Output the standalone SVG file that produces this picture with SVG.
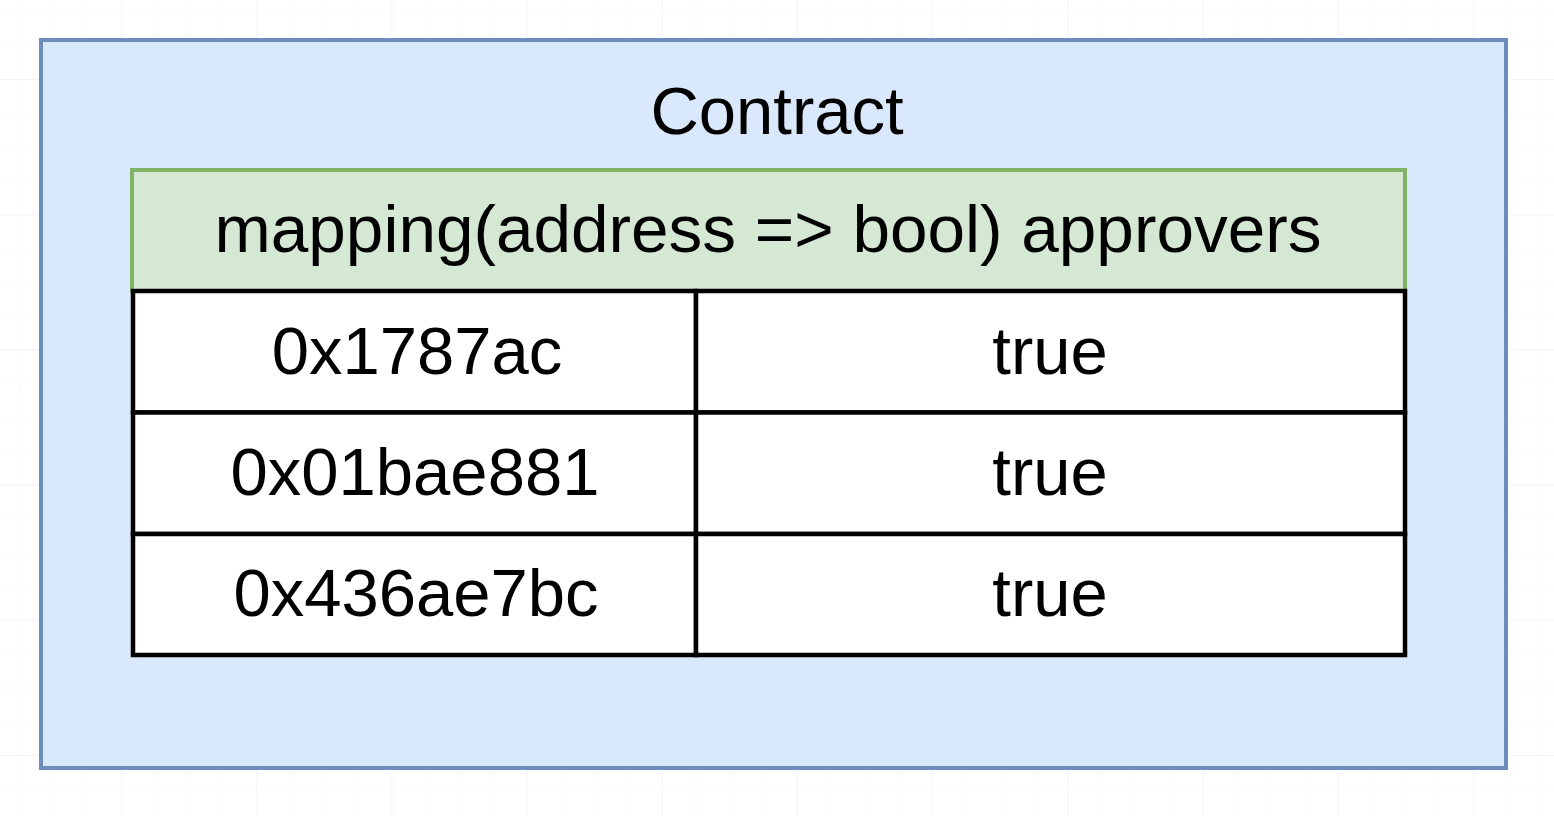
<svg xmlns="http://www.w3.org/2000/svg" width="1554" height="816" viewBox="0 0 1554 816">
  <defs>
    <pattern id="minor" width="33.8" height="33.8" patternUnits="userSpaceOnUse" x="-14.2" y="11.4">
      <path d="M 0 0 L 33.8 0 M 0 0 L 0 33.8" fill="none" stroke="#f7f7f7" stroke-width="1"/>
    </pattern>
    <pattern id="major" width="135.2" height="135.2" patternUnits="userSpaceOnUse" x="-14.2" y="-56.2">
      <path d="M 0 0 L 135.2 0 M 0 0 L 0 135.2" fill="none" stroke="#eeeeee" stroke-width="1"/>
    </pattern>
  </defs>
  <style>
    .txt { font-family: "Liberation Sans", Arial, Helvetica, sans-serif; font-size: 67px; fill: #000; text-anchor: middle; }
    .cell { fill: #ffffff; stroke: #000000; stroke-width: 4.5; }
  </style>
  <rect x="0" y="0" width="1554" height="816" fill="#ffffff"/>
  <rect x="0" y="0" width="1554" height="816" fill="url(#minor)"/>
  <rect x="0" y="0" width="1554" height="816" fill="url(#major)"/>

  <g id="contract">
    <rect x="41" y="40" width="1465" height="728" fill="#dae8fc" stroke="#6c8ebf" stroke-width="4"/>
    <text class="txt" x="777" y="134">Contract</text>
  </g>

  <g id="mapping-header">
    <rect x="132" y="170" width="1273" height="121" fill="#d5e8d4" stroke="#82b366" stroke-width="4"/>
    <text class="txt" x="768" y="252" style="font-size:67.5px">mapping(address =&gt; bool) approvers</text>
  </g>

  <g id="row1-key">
    <rect class="cell" x="133" y="291" width="563" height="121.5"/>
    <text class="txt" x="417" y="374">0x1787ac</text>
  </g>
  <g id="row1-value">
    <rect class="cell" x="696" y="291" width="709" height="121.5"/>
    <text class="txt" x="1050" y="374">true</text>
  </g>
  <g id="row2-key">
    <rect class="cell" x="133" y="412.5" width="563" height="121.5"/>
    <text class="txt" x="415" y="495">0x01bae881</text>
  </g>
  <g id="row2-value">
    <rect class="cell" x="696" y="412.5" width="709" height="121.5"/>
    <text class="txt" x="1050" y="495">true</text>
  </g>
  <g id="row3-key">
    <rect class="cell" x="133" y="534" width="563" height="121"/>
    <text class="txt" x="416" y="616">0x436ae7bc</text>
  </g>
  <g id="row3-value">
    <rect class="cell" x="696" y="534" width="709" height="121"/>
    <text class="txt" x="1050" y="616">true</text>
  </g>

  <g id="connectors"></g>
</svg>
